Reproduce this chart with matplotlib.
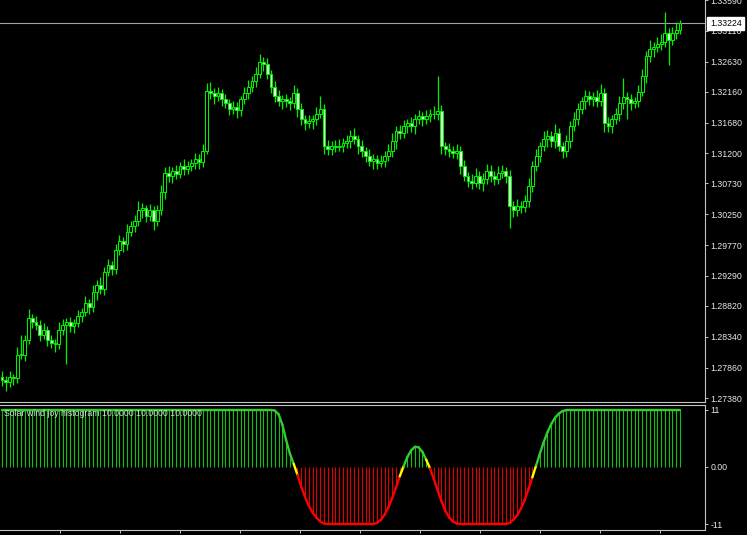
"""MetaTrader-style price chart with a 'Solar wind joy' histogram sub-window."""

import matplotlib

matplotlib.use("Agg")
import matplotlib.pyplot as plt
import matplotlib.transforms as mtransforms
import numpy as np
from matplotlib.collections import LineCollection

plt.rcParams["font.family"] = ["Liberation Sans", "DejaVu Sans"]

# ---- data -------------------------------------------------------------
FIRST_OPEN = 1.2772
CLOSES = [
    1.2767, 1.2764, 1.2771, 1.2770, 1.2806, 1.2806, 1.2829, 1.2864, 1.2857, 1.2853,
    1.2837, 1.2845, 1.2829, 1.2825, 1.2822, 1.2845, 1.2853, 1.2857, 1.2850, 1.2856,
    1.2866, 1.2872, 1.2887, 1.2880, 1.2904, 1.2915, 1.2908, 1.2935, 1.2946, 1.2940,
    1.2969, 1.2984, 1.2978, 1.2997, 1.3007, 1.3015, 1.3031, 1.3034, 1.3022, 1.3031,
    1.3015, 1.3031, 1.3059, 1.3090, 1.3085, 1.3093, 1.3088, 1.3100, 1.3096, 1.3100,
    1.3105, 1.3111, 1.3106, 1.3124, 1.3217, 1.3214, 1.3209, 1.3214, 1.3204, 1.3198,
    1.3189, 1.3192, 1.3187, 1.3204, 1.3214, 1.3224, 1.3232, 1.3244, 1.3263, 1.3260,
    1.3244, 1.3224, 1.3209, 1.3201, 1.3204, 1.3201, 1.3198, 1.3214, 1.3189, 1.3173,
    1.3167, 1.3170, 1.3173, 1.3182, 1.3189, 1.3131, 1.3127, 1.3132, 1.3130, 1.3131,
    1.3136, 1.3139, 1.3147, 1.3142, 1.3131, 1.3124, 1.3116, 1.3108, 1.3111, 1.3105,
    1.3108, 1.3116, 1.3124, 1.3139, 1.3155, 1.3151, 1.3162, 1.3167, 1.3162, 1.3173,
    1.3178, 1.3173, 1.3178, 1.3181, 1.3182, 1.3186, 1.3131, 1.3127, 1.3124, 1.3120,
    1.3124, 1.3100, 1.3085, 1.3077, 1.3074, 1.3085, 1.3074, 1.3080, 1.3093, 1.3085,
    1.3080, 1.3090, 1.3093, 1.3085, 1.3038, 1.3031, 1.3038, 1.3036, 1.3046, 1.3069,
    1.3100, 1.3116, 1.3131, 1.3142, 1.3147, 1.3139, 1.3151, 1.3131, 1.3124, 1.3139,
    1.3162, 1.3173, 1.3189, 1.3201, 1.3209, 1.3204, 1.3207, 1.3201, 1.3214, 1.3167,
    1.3162, 1.3173, 1.3182, 1.3198, 1.3207, 1.3204, 1.3198, 1.3201, 1.3216, 1.3240,
    1.3271, 1.3282, 1.3286, 1.3291, 1.3294, 1.3307, 1.3297, 1.3307, 1.3313, 1.33224,
]
# wick lengths beyond the body, in pips (0.0001)
UPPER_WICK_PIPS = [
    8, 6, 10, 5, 12, 30, 8, 14, 6, 9,
    7, 10, 5, 8, 6, 12, 9, 6, 8, 5,
    9, 7, 11, 6, 10, 8, 12, 7, 9, 6,
    10, 8, 6, 12, 7, 9, 14, 8, 6, 10,
    7, 9, 12, 8, 10, 6, 9, 7, 11, 8,
    6, 9, 8, 10, 12, 14, 8, 10, 6, 9,
    7, 10, 8, 6, 9, 11, 8, 10, 12, 7,
    9, 6, 8, 10, 7, 9, 6, 12, 8, 10,
    7, 9, 6, 10, 20, 8, 10, 7, 9, 12,
    8, 10, 9, 12, 7, 9, 6, 10, 8, 7,
    9, 8, 10, 12, 7, 9, 10, 6, 9, 8,
    10, 7, 9, 8, 12, 54, 10, 7, 9, 8,
    10, 7, 9, 6, 10, 12, 7, 9, 11, 8,
    7, 10, 8, 6, 9, 8, 10, 7, 9, 12,
    8, 10, 7, 12, 9, 8, 14, 9, 7, 10,
    8, 12, 9, 7, 10, 8, 9, 11, 14, 8,
    10, 7, 9, 12, 30, 8, 9, 7, 10, 12,
    9, 14, 8, 10, 12, 33, 9, 10, 12, 6,
]
LOWER_WICK_PIPS = [
    10, 14, 8, 12, 8, 7, 10, 6, 9, 8,
    9, 6, 10, 8, 12, 7, 9, 62, 8, 10,
    7, 9, 6, 10, 8, 12, 7, 9, 6, 10,
    8, 7, 12, 9, 6, 10, 8, 12, 9, 7,
    14, 8, 7, 10, 9, 12, 8, 6, 10, 9,
    7, 9, 10, 8, 5, 9, 12, 7, 10, 8,
    10, 8, 12, 9, 7, 10, 8, 9, 7, 12,
    8, 10, 9, 7, 12, 9, 10, 8, 12, 9,
    10, 8, 12, 9, 7, 12, 9, 10, 8, 7,
    9, 7, 10, 8, 12, 9, 10, 8, 12, 9,
    7, 10, 8, 9, 12, 8, 7, 10, 9, 12,
    8, 10, 7, 9, 8, 10, 12, 9, 10, 8,
    9, 12, 8, 10, 9, 7, 10, 12, 8, 9,
    10, 8, 9, 12, 35, 10, 8, 9, 7, 10,
    9, 8, 10, 7, 12, 9, 10, 8, 12, 9,
    10, 8, 9, 7, 12, 8, 10, 9, 8, 14,
    9, 10, 8, 12, 9, 30, 10, 8, 9, 7,
    10, 9, 12, 8, 10, 9, 40, 8, 9, 7,
]
HISTOGRAM = [
    11, 11, 11, 11, 11, 11, 11, 11, 11, 11, 11, 11,
    11, 11, 11, 11, 11, 11, 11, 11, 11, 11, 11, 11,
    11, 11, 11, 11, 11, 11, 11, 11, 11, 11, 11, 11,
    11, 11, 11, 11, 11, 11, 11, 11, 11, 11, 11, 11,
    11, 11, 11, 11, 11, 11, 11, 11, 11, 11, 11, 11,
    11, 11, 11, 11, 11, 11, 11, 11, 11, 11, 11, 11,
    10.9, 10.2, 8.2, 5.2, 2.6, 0.6, -1.5, -3.8, -5.8, -7.5, -8.8, -9.8, -10.5, -10.9,
    -11, -11, -11, -11, -11, -11, -11, -11, -11, -11, -11, -11, -11,
    -10.8, -10.2, -9.2, -7.8, -6.0, -4.0, -1.8, 0.1, 1.9, 3.2, 3.9,
    3.8, 2.9, 1.4, -0.3, -2.3, -4.5, -6.6, -8.4, -9.7, -10.5, -10.9,
    -11, -11, -11, -11, -11, -11, -11, -11, -11, -11, -11, -11, -11,
    -10.8, -10.2, -9.3, -8.0, -6.3, -4.3, -2.0, 0.3, 2.6, 4.8, 6.7, 8.3, 9.5, 10.3, 10.8,
    11, 11, 11, 11, 11, 11, 11, 11, 11, 11, 11,
    11, 11, 11, 11, 11, 11, 11, 11, 11, 11,
    11, 11, 11, 11, 11, 11, 11, 11, 11, 11,
]
PRICE_TICKS = [
    1.27380, 1.27860, 1.28340, 1.28820, 1.29290, 1.29770, 1.30250,
    1.30730, 1.31200, 1.31680, 1.32160, 1.32630, 1.33110, 1.33590,
]
CURRENT_PRICE = 1.33224
INDICATOR_TICKS = [11, 0, -11]
INDICATOR_TICK_LABELS = ["11", "0.00", "-11"]
INDICATOR_LABEL = "Solar wind joy histogram 10.0000 10.0000 10.0000"

# ---- layout (pixels of the 747x535 screenshot) ------------------------
W, H = 747, 535
BAR_PX = 3.788
X0_PX = 2.0
PANEL_RIGHT = 705
MAIN_BOTTOM = 401.5
IND_TOP, IND_BOTTOM = 404.5, 529.5
PIP = 0.0001

COLOR_BG = "black"
COLOR_FRAME = "#c4c4c4"
COLOR_TEXT = "#e4e8ee"
COLOR_CANDLE = "#00f000"
COLOR_BEAR_BODY = "#e6ffe6"
COLOR_LINE_UP = "#32cd32"
COLOR_LINE_DOWN = "#ff0000"
COLOR_LINE_CROSS = "#ffff00"
COLOR_BAR_UP = "#12c012"
COLOR_BAR_DOWN = "#e00000"


def style_panel(ax):
    ax.set_facecolor(COLOR_BG)
    ax.spines["left"].set_visible(False)
    for side in ("top", "right", "bottom"):
        ax.spines[side].set_color(COLOR_FRAME)
        ax.spines[side].set_linewidth(0.8)
    ax.yaxis.tick_right()
    ax.tick_params(
        axis="y", direction="out", length=2.5, width=0.7, color=COLOR_FRAME,
        labelcolor=COLOR_TEXT, labelsize=6.3, pad=1.5,
    )


fig = plt.figure(figsize=(W / 100, H / 100), dpi=100, facecolor=COLOR_BG)
xlim = (-X0_PX / BAR_PX, (PANEL_RIGHT - X0_PX) / BAR_PX)

ax = fig.add_axes([0, (H - MAIN_BOTTOM) / H, PANEL_RIGHT / W, MAIN_BOTTOM / H])
ax2 = fig.add_axes(
    [0, (H - IND_BOTTOM) / H, PANEL_RIGHT / W, (IND_BOTTOM - IND_TOP) / H]
)
style_panel(ax)
style_panel(ax2)
ax.spines["top"].set_visible(False)

# ---- candles ----------------------------------------------------------
closes = np.array(CLOSES)
opens = np.concatenate([[FIRST_OPEN], closes[:-1]])
highs = np.maximum(opens, closes) + np.array(UPPER_WICK_PIPS) * PIP
lows = np.minimum(opens, closes) - np.array(LOWER_WICK_PIPS) * PIP
x = np.arange(len(closes))

ax.vlines(x, lows, highs, color=COLOR_CANDLE, linewidth=0.9, zorder=2)
bottoms = np.minimum(opens, closes)
heights = np.maximum(np.abs(closes - opens), 0.00004)
faces = [COLOR_BG if c >= o else COLOR_BEAR_BODY for o, c in zip(opens, closes)]
ax.bar(
    x, heights, bottom=bottoms, width=0.74, color=faces,
    edgecolor=COLOR_CANDLE, linewidth=0.75, zorder=3,
)

ax.axhline(CURRENT_PRICE, color="#9aa0a8", linewidth=0.8, zorder=1)
price_tr = mtransforms.blended_transform_factory(ax.transAxes, ax.transData)
ax.text(
    1.007, CURRENT_PRICE, f"{CURRENT_PRICE:.5f}", transform=price_tr,
    ha="left", va="center", fontsize=6.3, color="black", clip_on=False, zorder=10,
    bbox=dict(boxstyle="square,pad=0.28", fc="white", ec="white"),
)

ax.set_xlim(xlim)
ax.set_ylim(1.273304, 1.335483)
ax.set_yticks(PRICE_TICKS)
ax.set_yticklabels([f"{p:.5f}" for p in PRICE_TICKS])
ax.set_xticks([])

# ---- indicator ----------------------------------------------------------
hist = np.array(HISTOGRAM, dtype=float)
ax2.vlines(
    x, 0, hist,
    colors=[COLOR_BAR_UP if v > 0 else COLOR_BAR_DOWN for v in hist],
    linewidth=0.8, zorder=2,
)
points = np.column_stack([x, hist])
segments = np.stack([points[:-1], points[1:]], axis=1)
seg_colors = []
for a, b in zip(hist[:-1], hist[1:]):
    if a > 0 and b > 0:
        seg_colors.append(COLOR_LINE_UP)
    elif a < 0 and b < 0:
        seg_colors.append(COLOR_LINE_DOWN)
    else:
        seg_colors.append(COLOR_LINE_CROSS)
ax2.add_collection(
    LineCollection(segments, colors=seg_colors, linewidths=1.7, zorder=3,
                   capstyle="round")
)

ax2.set_xlim(xlim)
ax2.set_ylim(-12.06, 12.06)
ax2.set_yticks(INDICATOR_TICKS)
ax2.set_yticklabels(INDICATOR_TICK_LABELS)
ax2.set_xticks((np.arange(60, PANEL_RIGHT, 60) - X0_PX) / BAR_PX)
ax2.tick_params(
    axis="x", direction="out", length=2.5, width=0.7, color=COLOR_FRAME,
    labelbottom=False,
)
ax2.text(
    4 / PANEL_RIGHT, 1 - (413 - IND_TOP) / (IND_BOTTOM - IND_TOP), INDICATOR_LABEL,
    transform=ax2.transAxes, ha="left", va="center", fontsize=6.3,
    color="#d8d8d8", zorder=5,
)

fig.savefig("out.png", dpi=100, facecolor=COLOR_BG)
